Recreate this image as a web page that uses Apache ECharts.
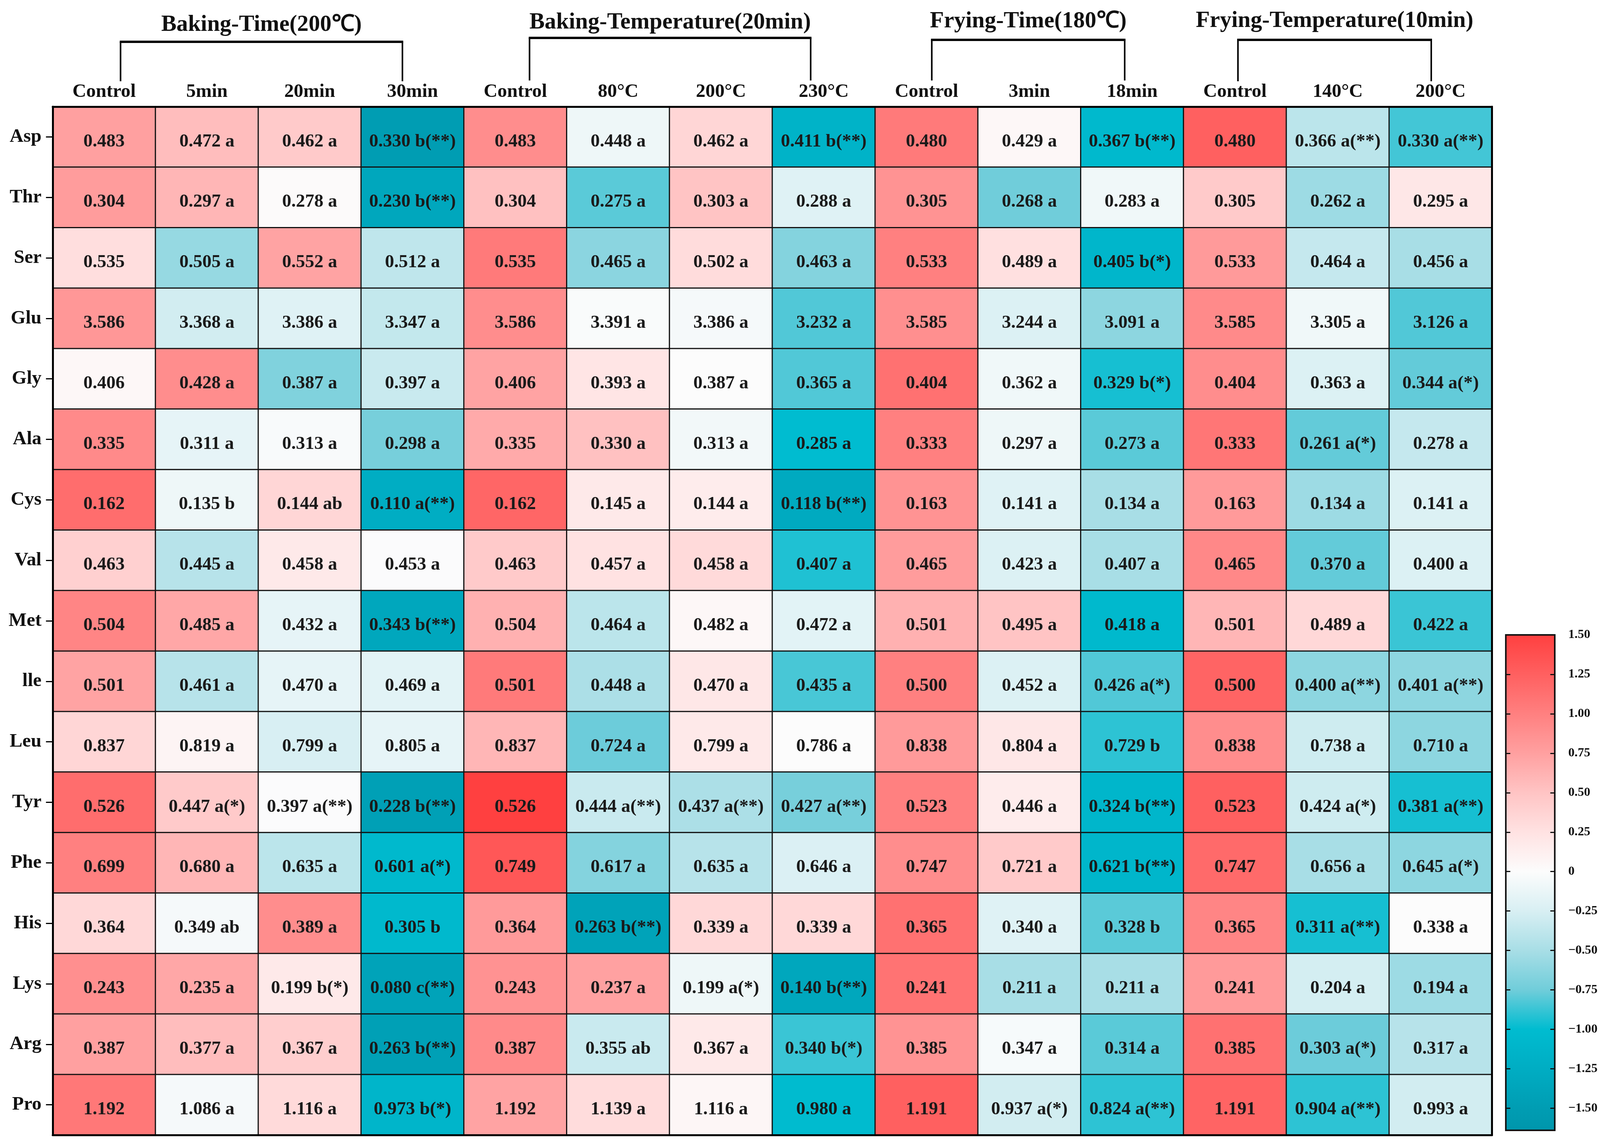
<!DOCTYPE html>
<html><head><meta charset="utf-8">
<script src="https://cdn.jsdelivr.net/npm/echarts@6.0.0/dist/echarts.min.js"></script>
<style>html,body{margin:0;padding:0;background:#fff;overflow:hidden}#chart{width:100vw;height:100vh}</style>
</head><body><div id="chart"></div>
<script>
// ---------- data ----------
const groupTitles = ['Baking-Time(200℃)', 'Baking-Temperature(20min)', 'Frying-Time(180℃)', 'Frying-Temperature(10min)'];
const columns = ['Control','5min','20min','30min','Control','80°C','200°C','230°C','Control','3min','18min','Control','140°C','200°C'];
const aminoAcids = ['Asp','Thr','Ser','Glu','Gly','Ala','Cys','Val','Met','lle','Leu','Tyr','Phe','His','Lys','Arg','Pro'];

const means = [
  [0.483,0.472,0.462,0.330, 0.483,0.448,0.462,0.411, 0.480,0.429,0.367, 0.480,0.366,0.330],
  [0.304,0.297,0.278,0.230, 0.304,0.275,0.303,0.288, 0.305,0.268,0.283, 0.305,0.262,0.295],
  [0.535,0.505,0.552,0.512, 0.535,0.465,0.502,0.463, 0.533,0.489,0.405, 0.533,0.464,0.456],
  [3.586,3.368,3.386,3.347, 3.586,3.391,3.386,3.232, 3.585,3.244,3.091, 3.585,3.305,3.126],
  [0.406,0.428,0.387,0.397, 0.406,0.393,0.387,0.365, 0.404,0.362,0.329, 0.404,0.363,0.344],
  [0.335,0.311,0.313,0.298, 0.335,0.330,0.313,0.285, 0.333,0.297,0.273, 0.333,0.261,0.278],
  [0.162,0.135,0.144,0.110, 0.162,0.145,0.144,0.118, 0.163,0.141,0.134, 0.163,0.134,0.141],
  [0.463,0.445,0.458,0.453, 0.463,0.457,0.458,0.407, 0.465,0.423,0.407, 0.465,0.370,0.400],
  [0.504,0.485,0.432,0.343, 0.504,0.464,0.482,0.472, 0.501,0.495,0.418, 0.501,0.489,0.422],
  [0.501,0.461,0.470,0.469, 0.501,0.448,0.470,0.435, 0.500,0.452,0.426, 0.500,0.400,0.401],
  [0.837,0.819,0.799,0.805, 0.837,0.724,0.799,0.786, 0.838,0.804,0.729, 0.838,0.738,0.710],
  [0.526,0.447,0.397,0.228, 0.526,0.444,0.437,0.427, 0.523,0.446,0.324, 0.523,0.424,0.381],
  [0.699,0.680,0.635,0.601, 0.749,0.617,0.635,0.646, 0.747,0.721,0.621, 0.747,0.656,0.645],
  [0.364,0.349,0.389,0.305, 0.364,0.263,0.339,0.339, 0.365,0.340,0.328, 0.365,0.311,0.338],
  [0.243,0.235,0.199,0.080, 0.243,0.237,0.199,0.140, 0.241,0.211,0.211, 0.241,0.204,0.194],
  [0.387,0.377,0.367,0.263, 0.387,0.355,0.367,0.340, 0.385,0.347,0.314, 0.385,0.303,0.317],
  [1.192,1.086,1.116,0.973, 1.192,1.139,1.116,0.980, 1.191,0.937,0.824, 1.191,0.904,0.993]
];

const letters = [
  ['','a','a','b(**)', '','a','a','b(**)', '','a','b(**)', '','a(**)','a(**)'],
  ['','a','a','b(**)', '','a','a','a', '','a','a', '','a','a'],
  ['','a','a','a', '','a','a','a', '','a','b(*)', '','a','a'],
  ['','a','a','a', '','a','a','a', '','a','a', '','a','a'],
  ['','a','a','a', '','a','a','a', '','a','b(*)', '','a','a(*)'],
  ['','a','a','a', '','a','a','a', '','a','a', '','a(*)','a'],
  ['','b','ab','a(**)', '','a','a','b(**)', '','a','a', '','a','a'],
  ['','a','a','a', '','a','a','a', '','a','a', '','a','a'],
  ['','a','a','b(**)', '','a','a','a', '','a','a', '','a','a'],
  ['','a','a','a', '','a','a','a', '','a','a(*)', '','a(**)','a(**)'],
  ['','a','a','a', '','a','a','a', '','a','b', '','a','a'],
  ['','a(*)','a(**)','b(**)', '','a(**)','a(**)','a(**)', '','a','b(**)', '','a(*)','a(**)'],
  ['','a','a','a(*)', '','a','a','a', '','a','b(**)', '','a','a(*)'],
  ['','ab','a','b', '','b(**)','a','a', '','a','b', '','a(**)','a'],
  ['','a','b(*)','c(**)', '','a','a(*)','b(**)', '','a','a', '','a','a'],
  ['','a','a','b(**)', '','ab','a','b(*)', '','a','a', '','a(*)','a'],
  ['','a','a','b(*)', '','a','a','a', '','a(*)','a(**)', '','a(**)','a']
];

// colour-scale value of each cell
const colorScores = [
  [0.75,0.55,0.45,-1.5, 0.9,-0.1,0.35,-1.15, 1.05,0.05,-1.05, 1.25,-0.4,-0.85],
  [0.78,0.6,0.02,-1.35, 0.52,-0.8,0.5,-0.2, 0.85,-0.75,-0.08, 0.45,-0.55,0.2],
  [0.28,-0.58,0.73,-0.38, 1.05,-0.63,0.3,-0.66, 1.0,0.27,-1.1, 0.8,-0.35,-0.5],
  [0.82,-0.28,-0.2,-0.36, 0.9,-0.02,-0.05,-0.82, 0.88,-0.22,-0.62, 0.92,-0.08,-0.82],
  [0.05,0.9,-0.68,-0.33, 0.73,0.22,0.0,-0.82, 1.12,-0.08,-0.95, 0.9,-0.22,-0.78],
  [0.92,-0.15,-0.03,-0.72, 0.68,0.52,-0.07,-1.0, 1.0,-0.1,-0.8, 1.08,-0.78,-0.35],
  [1.15,-0.1,0.35,-1.25, 1.2,0.18,0.15,-1.3, 0.85,-0.2,-0.5, 0.8,-0.55,-0.22],
  [0.4,-0.42,0.18,-0.01, 0.45,0.25,0.32,-0.93, 0.78,-0.22,-0.5, 0.94,-0.78,-0.22],
  [0.96,0.7,-0.15,-1.35, 0.63,-0.4,0.05,-0.18, 0.63,0.5,-1.05, 0.6,0.33,-0.87],
  [0.73,-0.42,-0.15,-0.18, 1.05,-0.48,0.2,-0.84, 1.0,-0.22,-0.82, 1.22,-0.62,-0.62],
  [0.35,0.08,-0.25,-0.15, 0.6,-0.76,0.18,0.0, 0.8,0.2,-0.9, 0.9,-0.3,-0.62],
  [1.15,0.45,-0.01,-1.45, 1.5,-0.33,-0.48,-0.72, 1.0,0.15,-1.1, 1.25,-0.3,-0.95],
  [1.0,0.6,-0.4,-1.05, 1.32,-0.66,-0.42,-0.23, 0.9,0.45,-1.1, 1.17,-0.5,-0.62],
  [0.33,-0.05,0.9,-1.05, 0.8,-1.4,0.33,0.33, 1.12,-0.2,-0.8, 0.96,-0.95,0.0],
  [0.88,0.7,0.18,-1.4, 0.86,0.74,-0.1,-1.35, 1.1,-0.5,-0.5, 0.8,-0.27,-0.55],
  [0.75,0.55,0.42,-1.45, 0.92,-0.33,0.18,-0.87, 0.85,-0.04,-0.8, 1.12,-0.76,-0.42],
  [1.06,-0.05,0.32,-1.12, 0.73,0.3,0.06,-1.02, 1.25,-0.28,-0.9, 1.22,-0.9,-0.28]
];

const colorTicks = [-1.5,-1.25,-1,-0.75,-0.5,-0.25,0,0.25,0.5,0.75,1,1.25,1.5];

// ---------- styling / layout (designed for 4281 x 2928, scaled to the viewport) ----------
const SERIF = "'Liberation Serif','Times New Roman',serif";
const palette = ['#009DB3','#00ADC3','#00BCD0','#70CDDA','#A8DEE6','#D8EFF3','#FCFCFC',
                 '#FFE2E2','#FFC4C4','#FFA0A0','#FF8080','#FF6060','#FF4040'];
const groupLayout = [
  {first:0, last:3, dl:44, dr:-27, barY:107, botY:208, titleY:64},
  {first:4, last:7, dl:38, dr:-35, barY:97, botY:206, titleY:58},
  {first:8, last:10, dl:14, dr:-20, barY:102, botY:206, titleY:55},
  {first:11, last:13, dl:8, dr:-25, barY:102, botY:208, titleY:54}
];

const el = document.getElementById('chart');
const W = el.clientWidth || window.innerWidth;
const H = el.clientHeight || window.innerHeight;
const sx = W / 4281, sy = H / 2928;
const fk = (sx + sy) / 2;
const X = v => v * sx, Y = v => v * sy, F = v => Math.round(v * fk * 10) / 10;

const heatData = [];
for (let i = 0; i < aminoAcids.length; i++) {
  for (let j = 0; j < columns.length; j++) {
    heatData.push([j, i, colorScores[i][j], means[i][j], letters[i][j]]);
  }
}

const chart = echarts.init(el);
const axisFont = {fontFamily: SERIF, fontWeight: 'bold', fontSize: F(50), color: '#111'};

chart.setOption({
  animation: false,
  backgroundColor: '#fff',
  grid: [
    {left: X(141), top: Y(273), width: X(3851), height: Y(2632)},
    {left: X(4029), top: Y(1625), width: X(131), height: Y(1268)}
  ],
  xAxis: [
    {gridIndex: 0, type: 'category', data: columns, position: 'top', z: 5,
     axisLine: {show: true, lineStyle: {color: '#000', width: 5}},
     axisTick: {show: false},
     axisLabel: Object.assign({interval: 0, margin: Y(13)}, axisFont),
     splitLine: {show: false}},
    {gridIndex: 0, type: 'category', data: columns, position: 'bottom', z: 5,
     axisLine: {show: true, lineStyle: {color: '#000', width: 5}},
     axisTick: {show: false}, axisLabel: {show: false}, splitLine: {show: false}},
    {gridIndex: 1, type: 'value', min: 0, max: 1, show: false}
  ],
  yAxis: [
    {gridIndex: 0, type: 'category', data: aminoAcids, inverse: true, z: 5,
     axisLine: {show: true, lineStyle: {color: '#000', width: 5}},
     axisTick: {show: true, alignWithLabel: true, length: X(18), lineStyle: {color: '#000', width: 3}},
     axisLabel: Object.assign({interval: 0, margin: X(30)}, axisFont),
     splitLine: {show: false}},
    {gridIndex: 0, type: 'category', data: aminoAcids, inverse: true, position: 'right', z: 5,
     axisLine: {show: true, lineStyle: {color: '#000', width: 5}},
     axisTick: {show: false}, axisLabel: {show: false}, splitLine: {show: false}},
    {gridIndex: 1, type: 'value', min: -1.64, max: 1.5, position: 'left', z: 10,
     axisLine: {show: false},
     axisTick: {show: true, inside: true, length: X(12), customValues: colorTicks, lineStyle: {color: '#111', width: 3}},
     axisLabel: {show: false}, splitLine: {show: false}},
    {gridIndex: 1, type: 'value', min: -1.64, max: 1.5, position: 'right', z: 10,
     axisLine: {show: false},
     axisTick: {show: true, inside: true, length: X(12), customValues: colorTicks, lineStyle: {color: '#111', width: 3}},
     axisLabel: {show: true, customValues: colorTicks, margin: X(36), fontFamily: SERIF, fontWeight: 'bold', fontSize: F(33), color: '#111',
       formatter: function (v) { if (Math.abs(v) < 1e-9) return '0'; return (v < 0 ? '\u2212' : '') + Math.abs(v).toFixed(2); }},
     splitLine: {show: false}}
  ],
  visualMap: {
    type: 'continuous', show: false, min: -1.5, max: 1.5, dimension: 2, seriesIndex: 0,
    inRange: {color: palette}
  },
  series: [{
    type: 'heatmap', xAxisIndex: 0, yAxisIndex: 0, data: heatData,
    itemStyle: {borderColor: '#111', borderWidth: 3},
    label: {
      show: true, offset: [0, Y(12)],
      fontFamily: SERIF, fontWeight: 'bold', fontSize: F(48), color: '#1a1a1a',
      formatter: function (p) { const m = p.data[3].toFixed(3); return p.data[4] ? m + ' ' + p.data[4] : m; }
    },
    emphasis: {disabled: true}
  }]
});

// ---------- annotations: group brackets, titles, colour bar ----------
const gfx = [];
groupLayout.forEach(function (gl, k) {
  const xl = chart.convertToPixel({xAxisIndex: 0}, gl.first) + X(gl.dl);
  const xr = chart.convertToPixel({xAxisIndex: 0}, gl.last) + X(gl.dr);
  gfx.push({type: 'line', z: 30, shape: {x1: xl - 2, y1: Y(gl.barY), x2: xr + 2, y2: Y(gl.barY)}, style: {stroke: '#000', lineWidth: 6}});
  gfx.push({type: 'line', z: 30, shape: {x1: xl, y1: Y(gl.barY), x2: xl, y2: Y(gl.botY)}, style: {stroke: '#000', lineWidth: 4}});
  gfx.push({type: 'line', z: 30, shape: {x1: xr, y1: Y(gl.barY), x2: xr, y2: Y(gl.botY)}, style: {stroke: '#000', lineWidth: 4}});
  gfx.push({type: 'text', z: 30, x: (xl + xr) / 2, y: Y(gl.titleY),
    style: {text: groupTitles[k], font: 'bold ' + F(60) + 'px ' + SERIF, fill: '#111',
            align: 'center', verticalAlign: 'middle', textAlign: 'center', textVerticalAlign: 'middle'}});
});

const cbTop = chart.convertToPixel({yAxisIndex: 2}, 1.5);
const cbBot = chart.convertToPixel({yAxisIndex: 2}, -1.64);
const cbL = chart.convertToPixel({xAxisIndex: 2}, 0);
const cbR = chart.convertToPixel({xAxisIndex: 2}, 1);
const span = 1.5 - (-1.64);
const stops = [];
for (let k = palette.length - 1; k >= 0; k--) {
  stops.push({offset: (1.5 - colorTicks[k]) / span, color: palette[k]});
}
stops.push({offset: 1, color: '#0096AC'});
gfx.push({type: 'rect', z: 1, shape: {x: cbL, y: cbTop, width: cbR - cbL, height: cbBot - cbTop},
  style: {fill: new echarts.graphic.LinearGradient(0, 0, 0, 1, stops)}});
gfx.push({type: 'rect', z: 40, shape: {x: cbL, y: cbTop, width: cbR - cbL, height: cbBot - cbTop},
  style: {fill: null, stroke: '#111', lineWidth: 4}});

chart.setOption({graphic: {elements: gfx}});
</script>
</body></html>
